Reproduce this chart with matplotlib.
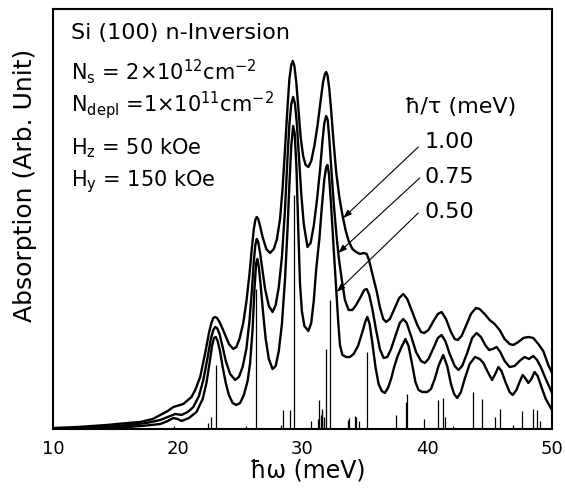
import numpy as np
import matplotlib
matplotlib.use("Agg")
import matplotlib.pyplot as plt

plt.rcParams["font.family"] = ["DejaVu Sans"]
plt.rcParams["mathtext.default"] = "regular"

# photon energy (meV) and absorption (arb. units)
# hbar/tau = 1.00 meV
e_100 = [10.0, 12.0, 14.3, 16.0, 17.0, 18.0, 18.6, 19.2, 19.65, 20.45, 21.1, 21.4, 21.8,
         22.2, 22.5, 22.7, 22.85, 23.0, 23.15, 23.35, 23.6, 23.8, 24.1, 24.45, 24.7, 24.95,
         25.25, 25.5, 25.75, 25.95, 26.1, 26.22, 26.33, 26.45, 26.6, 26.8, 27.1, 27.4, 27.7,
         27.95, 28.2, 28.4, 28.6, 28.8, 28.95, 29.1, 29.22, 29.35, 29.5, 29.66, 29.85, 30.05,
         30.25, 30.47, 30.7, 30.95, 31.2, 31.45, 31.65, 31.8, 31.9, 32.0, 32.15, 32.3, 32.47,
         32.7, 32.95, 33.2, 33.45, 33.7, 34.0, 34.3, 34.6, 34.9, 35.15, 35.35, 35.6, 35.94,
         36.2, 36.47, 36.7, 37.0, 37.4, 37.75, 38.08, 38.4, 38.8, 39.2, 39.5, 39.75, 40.1,
         40.5, 40.85, 41.15, 41.5, 41.9, 42.2, 42.45, 42.75, 43.1, 43.5, 43.9, 44.2, 44.6,
         45.0, 45.4, 45.8, 46.2, 46.6, 46.9, 47.3, 47.7, 48.1, 48.5, 48.9, 49.3, 49.7, 50.0]
a_100 = [1, 2, 4, 6, 7, 10, 14, 18, 22, 25, 32, 39, 52,
         76, 96, 106, 111, 112, 111, 107, 100, 94, 85, 80, 82, 90,
         106, 127, 155, 182, 200, 209, 212, 210, 203, 192, 180, 176, 180,
         190, 210, 240, 280, 322, 350, 364, 368, 363, 347, 322, 292, 273,
         264, 262, 268, 283, 303, 328, 347, 355, 357, 354, 340, 318, 290,
         257, 232, 214, 199, 188, 180, 177, 175, 176, 175, 168, 155, 138,
         122, 110, 107, 110, 121, 131, 135, 130, 117, 104, 97, 96, 99,
         108, 115, 117, 110, 97, 90, 89, 93, 103, 115, 121, 120, 115,
         109, 105, 99, 90, 85, 84, 87, 91, 92, 91, 85, 78, 64, 56]

# hbar/tau = 0.75 meV
e_075 = [10.0, 12.0, 14.3, 16.0, 17.5, 18.6, 19.2, 19.8, 20.3, 20.8, 21.25, 21.7, 22.05,
         22.4, 22.65, 22.85, 23.0, 23.15, 23.35, 23.6, 23.85, 24.2, 24.6, 24.9, 25.2, 25.5,
         25.75, 25.95, 26.1, 26.22, 26.33, 26.45, 26.6, 26.8, 27.0, 27.3, 27.6, 27.85, 28.1,
         28.35, 28.6, 28.8, 28.95, 29.1, 29.25, 29.4, 29.55, 29.7, 29.9, 30.1, 30.4, 30.65,
         30.9, 31.15, 31.4, 31.6, 31.75, 31.9, 32.02, 32.15, 32.3, 32.5, 32.7, 32.9, 33.14,
         33.4, 33.7, 34.0, 34.3, 34.7, 34.95, 35.15, 35.35, 35.6, 35.9, 36.2, 36.5, 36.8,
         37.1, 37.5, 37.8, 38.08, 38.35, 38.7, 39.1, 39.5, 39.8, 40.1, 40.5, 40.85, 41.15,
         41.45, 41.8, 42.2, 42.5, 42.8, 43.2, 43.6, 43.95, 44.3, 44.65, 44.95, 45.25, 45.56,
         45.85, 46.2, 46.6, 47.0, 47.4, 47.8, 48.15, 48.5, 48.8, 49.1, 49.5, 50.0]
a_075 = [0.5, 1, 2, 4, 6, 9, 12, 15, 14, 17, 22, 33, 49,
         72, 90, 99, 102, 101, 95, 82, 68, 55, 49, 52, 62, 80,
         108, 140, 168, 184, 190, 187, 176, 158, 140, 123, 117, 124, 142,
         172, 220, 272, 305, 325, 332, 325, 305, 275, 235, 205, 182, 186,
         203, 228, 258, 288, 306, 313, 309, 290, 262, 226, 197, 172, 150,
         129, 119, 119, 124, 133, 139, 140, 134, 120, 99, 80, 71, 72,
         80, 95, 106, 110, 106, 93, 77, 68, 66, 70, 81, 91, 94,
         88, 75, 63, 59, 63, 76, 91, 96, 92, 84, 79, 80, 82,
         77, 68, 62, 63, 68, 72, 70, 73, 69, 62, 50, 36]

# hbar/tau = 0.50 meV
e_050 = [10.0, 12.0, 14.3, 16.0, 17.5, 18.6, 19.2, 19.65, 20.0, 20.3, 20.9, 21.5, 22.0,
         22.3, 22.55, 22.75, 22.9, 23.05, 23.2, 23.4, 23.6, 23.85, 24.1, 24.4, 24.7, 25.0,
         25.3, 25.6, 25.8, 26.0, 26.15, 26.28, 26.38, 26.5, 26.65, 26.85, 27.05, 27.3, 27.6,
         27.85, 28.1, 28.35, 28.6, 28.8, 28.95, 29.1, 29.25, 29.38, 29.52, 29.66, 29.8, 29.95,
         30.15, 30.47, 30.7, 30.9, 31.1, 31.35, 31.55, 31.75, 31.9, 32.0, 32.12, 32.3, 32.5,
         32.7, 32.87, 33.0, 33.2, 33.5, 33.8, 34.1, 34.45, 34.8, 35.05, 35.2, 35.38, 35.6,
         35.85, 36.1, 36.35, 36.6, 36.85, 37.1, 37.35, 37.6, 37.9, 38.25, 38.5, 38.8, 39.05,
         39.3, 39.6, 40.0, 40.3, 40.6, 40.9, 41.28, 41.6, 41.9, 42.15, 42.4, 42.7, 43.0,
         43.4, 43.83, 44.2, 44.5, 44.85, 45.2, 45.45, 45.7, 45.95, 46.3, 46.6, 46.85, 47.15,
         47.4, 47.65, 47.9, 48.1, 48.35, 48.6, 48.85, 49.15, 49.5, 50.0]
a_050 = [0, 0.5, 1, 2, 3.5, 5, 8, 11, 10, 8, 11, 17, 30,
         46, 66, 83, 91, 92, 88, 77, 62, 46, 34, 26, 24, 26,
         34, 48, 66, 100, 140, 165, 170, 162, 143, 115, 90, 70, 60,
         63, 78, 105, 150, 200, 245, 283, 303, 295, 260, 200, 145, 118,
         103, 98, 106, 128, 160, 190, 222, 250, 262, 264, 255, 222, 180,
         140, 106, 84, 74, 72, 72, 75, 83, 97, 108, 112, 105, 86,
         62, 45, 38, 36, 41, 50, 62, 72, 81, 90, 83, 64, 47,
         39, 37, 37, 40, 50, 63, 74, 63, 45, 35, 31, 37, 50,
         65, 72, 70, 66, 57, 49, 55, 62, 58, 46, 37, 34, 39,
         47, 54, 50, 46, 50, 57, 53, 42, 30, 19]

# transition lines (stick spectrum)
stick_e = [19.7, 22.45, 22.7, 23.07, 25.5, 26.3, 28.3, 28.46, 29.0, 29.3, 30.65, 31.25,
           31.35, 31.45, 31.55, 31.6, 31.7, 31.9, 32.2, 33.62, 33.75, 34.2, 34.3, 34.5,
           35.2, 37.5, 38.3, 38.4, 39.7, 40.84, 41.3, 41.4, 42.1, 43.7, 44.4, 45.4, 45.8,
           46.9, 47.6, 48.5, 48.8, 49.0]
stick_h = [3, 6, 12, 64, 3, 140, 4, 19, 19, 234, 8, 10,
           29, 14, 20, 17, 12, 80, 129, 9, 11, 13, 12, 8,
           77, 14, 27, 35, 10, 29, 31, 12, 3, 37, 30, 12, 20,
           4, 18, 20, 19, 8]

xticks = [10, 20, 30, 40, 50]

fig = plt.figure(figsize=(5.65, 4.91), dpi=100)
ax = fig.add_axes([0.0938, 0.1263, 0.8832, 0.8554])

ax.vlines(stick_e, 0, stick_h, color="black", linewidth=0.9)
for e, a in [(e_100, a_100), (e_075, a_075), (e_050, a_050)]:
    ax.plot(e, a, color="black", linewidth=1.7, solid_joinstyle="round")

ax.set_xlim(10, 50)
ax.set_ylim(0, 420)
ax.set_xticks(xticks)
ax.set_xticklabels([str(t) for t in xticks])
ax.set_yticks([])
ax.tick_params(axis="x", length=0, pad=8, labelsize=13)
for s in ax.spines.values():
    s.set_linewidth(1.5)

txt = [
    ("Si (100) n-Inversion", 0.942, 16),
    (r"N$_s$ = 2×10$^{12}$cm$^{-2}$", 0.851, 15),
    (r"N$_{depl}$ =1×10$^{11}$cm$^{-2}$", 0.771, 15),
    (r"H$_z$ = 50 kOe", 0.669, 15),
    (r"H$_y$ = 150 kOe", 0.589, 15),
]
for s, y, fs in txt:
    ax.text(0.037, y, s, transform=ax.transAxes, fontsize=fs, ha="left", va="center")

ax.text(0.816, 0.767, "ħ/τ (meV)", transform=ax.transAxes, fontsize=16,
        ha="center", va="center")

# arrows: label, label position, line start, arrow tip on the curve
arrows = [
    ("1.00", (39.8, 287), (39.28, 282), (33.27, 211)),
    ("0.75", (39.8, 252), (39.4, 251), (32.87, 176)),
    ("0.50", (39.8, 217), (39.28, 216), (32.74, 137)),
]
for lab, pos, start, tip in arrows:
    ax.annotate("", xy=tip, xytext=start,
                arrowprops=dict(arrowstyle="-|>,head_length=0.5,head_width=0.18",
                                color="black", linewidth=0.8, shrinkA=0, shrinkB=0))
    ax.text(pos[0], pos[1], lab, fontsize=16, ha="left", va="center")

fig.text(0.544, 0.041, "ħω (meV)", fontsize=17, ha="center", va="center")
fig.text(0.044, 0.623, "Absorption (Arb. Unit)", fontsize=18, ha="center",
         va="center", rotation=90)

fig.savefig("out.png", dpi=100)
